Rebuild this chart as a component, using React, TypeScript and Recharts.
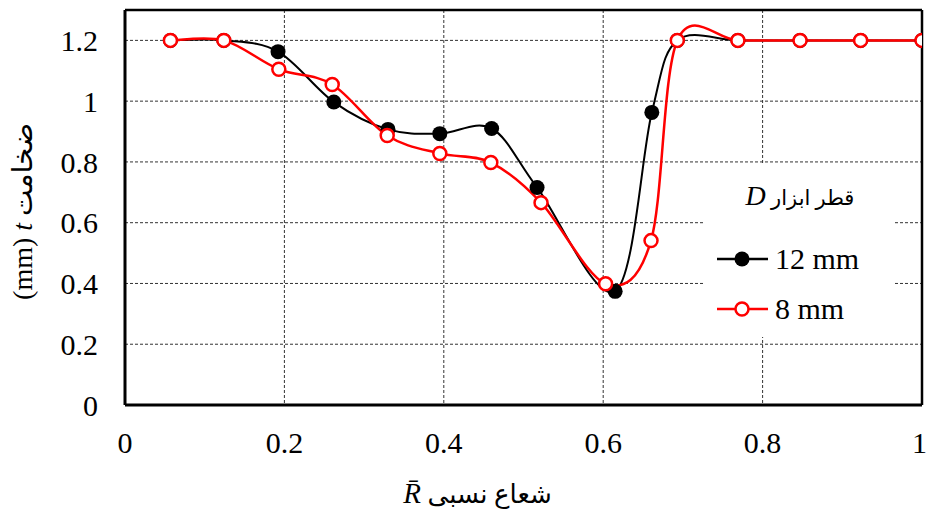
import React from "react";
import {
  LineChart,
  Line,
  XAxis,
  YAxis,
  CartesianGrid,
  ReferenceLine,
  Label,
} from "recharts";

// relative radius R̄ and thickness t (mm)
const r12 = [0.057, 0.124, 0.192, 0.262, 0.33, 0.395, 0.46, 0.517, 0.615, 0.661, 0.693, 0.769, 0.847, 0.923, 1.0];
const t12 = [1.2, 1.2, 1.163, 0.997, 0.907, 0.893, 0.91, 0.716, 0.374, 0.963, 1.2, 1.2, 1.2, 1.2, 1.2];
const r8 = [0.057, 0.124, 0.193, 0.26, 0.329, 0.395, 0.459, 0.522, 0.603, 0.66, 0.693, 0.769, 0.847, 0.923, 1.0];
const t8 = [1.2, 1.2, 1.105, 1.055, 0.887, 0.828, 0.798, 0.666, 0.399, 0.541, 1.2, 1.2, 1.2, 1.2, 1.2];

const xTicks = [0, 0.2, 0.4, 0.6, 0.8, 1];
const yTicks = [0, 0.2, 0.4, 0.6, 0.8, 1, 1.2];
const seriesNames = ["12 mm", "8 mm"];

const data12 = r12.map((r, i) => ({ r, t: t12[i] }));
const data8 = r8.map((r, i) => ({ r, t: t8[i] }));

const SERIF = "'Liberation Serif', Tinos, 'Times New Roman', 'DejaVu Serif', serif";
const MIXED = "'Liberation Serif', Tinos, 'DejaVu Serif', 'DejaVu Sans', serif";

// Excel-like smoothing (Catmull-Rom as cubic Bezier)
const smoothCurve: any = (context: any) => {
  let pts: [number, number][] = [];
  return {
    areaStart() {},
    areaEnd() {},
    lineStart() {
      pts = [];
    },
    point(x: number, y: number) {
      pts.push([+x, +y]);
    },
    lineEnd() {
      const n = pts.length;
      if (!n) return;
      context.moveTo(pts[0][0], pts[0][1]);
      const k = 1 / 6;
      for (let i = 0; i < n - 1; i++) {
        const p0 = pts[i - 1] || pts[i];
        const p1 = pts[i];
        const p2 = pts[i + 1];
        const p3 = pts[i + 2] || p2;
        context.bezierCurveTo(
          p1[0] + (p2[0] - p0[0]) * k,
          p1[1] + (p2[1] - p0[1]) * k,
          p2[0] - (p3[0] - p1[0]) * k,
          p2[1] - (p3[1] - p1[1]) * k,
          p2[0],
          p2[1]
        );
      }
    },
  };
};

const LegendBox = () => (
  <div
    style={{
      position: "absolute",
      left: 705,
      top: 163,
      width: 190,
      height: 174,
      background: "#fff",
      fontFamily: SERIF,
    }}
  >
    <div
      style={{
        position: "absolute",
        left: 0,
        width: 190,
        top: 18,
        textAlign: "center",
        fontSize: 21,
        lineHeight: "30px",
        fontFamily: MIXED,
        direction: "ltr",
        whiteSpace: "nowrap",
      }}
    >
      <span style={{ fontStyle: "italic", fontFamily: SERIF, fontSize: 28 }}>D</span> قطر ابزار
    </div>
    {seriesNames.map((name, i) => (
      <div key={name} style={{ position: "absolute", left: 0, top: 76 + i * 50, height: 40, width: 190 }}>
        <svg width={66} height={40} style={{ position: "absolute", left: 10, top: 0 }}>
          <line x1={2} y1={20} x2={53} y2={20} stroke={i === 0 ? "#000" : "#ff0000"} strokeWidth={2.5} />
          {i === 0 ? (
            <circle cx={27} cy={20} r={7.5} fill="#000" />
          ) : (
            <circle cx={27} cy={20} r={6.5} fill="#fff" stroke="#ff0000" strokeWidth={2.5} />
          )}
        </svg>
        <div
          style={{
            position: "absolute",
            left: 70,
            top: 0,
            fontSize: 30,
            lineHeight: "40px",
            color: "#000",
            whiteSpace: "nowrap",
          }}
        >
          {name}
        </div>
      </div>
    ))}
  </div>
);

const YLabel = (props: any) => {
  const vb = props.viewBox || { x: 0, y: 10, width: 125, height: 395 };
  const cx = 32;
  const cy = vb.y + vb.height / 2 + 4;
  return (
    <text
      x={cx}
      y={cy}
      transform={`rotate(-90, ${cx}, ${cy})`}
      textAnchor="middle"
      fontSize={28}
      fontFamily={MIXED}
      fill="#000"
    >
      <tspan fontFamily={SERIF}>(mm) </tspan>
      <tspan fontFamily={SERIF} fontStyle="italic">t</tspan>
      <tspan> ضخامت</tspan>
    </text>
  );
};

const XLabel = (props: any) => {
  const vb = props.viewBox || { x: 125, y: 405, width: 797, height: 110 };
  const cx = vb.x + vb.width / 2 - 46;
  const cy = vb.y + 98;
  return (
    <text x={cx} y={cy} textAnchor="middle" fontSize={26} fontFamily={MIXED} fill="#000">
      <tspan fontFamily={SERIF} fontStyle="italic" fontSize={29}>{"R\u0304"}</tspan>
      <tspan> شعاع نسبی</tspan>
    </text>
  );
};

export default function App() {
  return (
    <div style={{ position: "absolute", left: 0, top: 0, width: 927, height: 515, background: "#fff" }}>
      <LineChart width={927} height={515} margin={{ top: 10, right: 5, left: 0, bottom: 0 }}>
        <CartesianGrid
          stroke="#333"
          strokeDasharray="3 2"
          strokeWidth={1}
          horizontalValues={yTicks}
          verticalValues={xTicks}
        />
        <XAxis
          type="number"
          dataKey="r"
          domain={[0, 1]}
          ticks={xTicks}
          allowDataOverflow
          height={110}
          tickLine={false}
          axisLine={{ stroke: "#000", strokeWidth: 3 }}
          tick={{ fill: "#000", fontSize: 30, fontFamily: SERIF }}
          tickMargin={21}
          tickFormatter={(v: number) => String(v)}
        >
          <Label content={<XLabel />} />
        </XAxis>
        <YAxis
          type="number"
          domain={[0, 1.3]}
          ticks={yTicks}
          allowDataOverflow
          width={125}
          tickLine={false}
          axisLine={{ stroke: "#000", strokeWidth: 3 }}
          tick={{ fill: "#000", fontSize: 30, fontFamily: SERIF }}
          tickMargin={21}
          tickFormatter={(v: number) => String(v)}
        >
          <Label content={<YLabel />} />
        </YAxis>
        <ReferenceLine y={1.3} stroke="#000" strokeWidth={2.5} />
        <ReferenceLine x={1} stroke="#000" strokeWidth={2.5} />
        <Line
          data={data12}
          dataKey="t"
          name={seriesNames[0]}
          type={smoothCurve}
          stroke="#000"
          strokeWidth={2}
          dot={{ r: 7.5, fill: "#000", stroke: "#000", strokeWidth: 0 }}
          isAnimationActive={false}
        />
        <Line
          data={data8}
          dataKey="t"
          name={seriesNames[1]}
          type={smoothCurve}
          stroke="#ff0000"
          strokeWidth={2.5}
          dot={{ r: 6.5, fill: "#fff", stroke: "#ff0000", strokeWidth: 2.5 }}
          isAnimationActive={false}
        />
      </LineChart>
      <LegendBox />
    </div>
  );
}
